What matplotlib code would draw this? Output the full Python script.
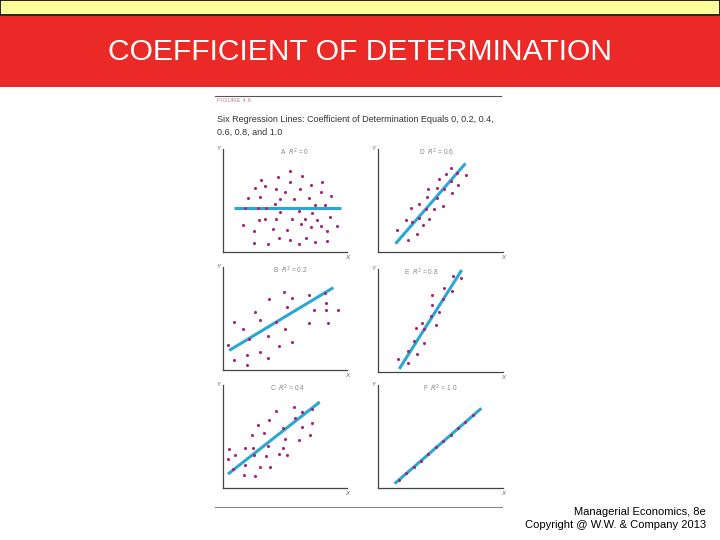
import matplotlib.pyplot as plt
from matplotlib.patches import Rectangle

plt.rcParams['font.family'] = ['Liberation Sans', 'DejaVu Sans']

# panel data (x, y in 0-10 axis units), plus regression line end points
a_x = [5.4, 4.4, 6.4, 3.1, 3.4, 5.4, 2.6, 4.3, 5.0, 6.2, 7.1, 8.0, 7.9, 3.0, 2.0, 4.6, 5.7, 6.9, 8.7,
       1.8, 2.8, 3.5, 4.2, 7.4, 8.2, 4.6, 6.1, 7.2, 2.9, 3.4, 4.3, 5.6, 6.6, 7.6, 8.6, 1.6, 2.5, 4.0,
       5.2, 6.3, 7.1, 7.9, 9.2, 8.4, 2.5, 3.6, 4.5, 5.4, 6.1, 6.7, 7.4, 8.4]
a_y = [7.9, 7.3, 7.4, 7.0, 6.4, 6.8, 6.2, 6.1, 5.8, 6.1, 6.5, 6.8, 5.8, 5.3, 5.2, 5.1, 5.1, 5.2, 5.4,
       4.3, 4.3, 4.3, 4.7, 4.6, 4.6, 3.9, 4.0, 3.8, 3.1, 3.2, 3.2, 3.2, 3.2, 3.1, 3.4, 2.6, 2.0, 2.2,
       2.1, 2.7, 2.4, 2.5, 2.5, 2.0, 0.9, 0.8, 1.4, 1.2, 0.8, 1.4, 1.0, 1.1]
a_line_x = [0.9, 9.5]
a_line_y = [4.26, 4.26]

b_x = [0.4, 0.9, 0.9, 1.6, 1.9, 1.9, 2.1, 2.6, 3.0, 3.0, 3.6, 3.6, 3.7, 4.3, 4.5, 4.9, 5.0, 5.2,
       5.6, 5.6, 6.9, 6.9, 7.3, 8.2, 8.3, 8.3, 8.5, 9.3]
b_y = [2.4, 1.0, 4.7, 4.0, 0.5, 1.5, 3.0, 5.6, 1.7, 4.9, 3.3, 1.2, 6.9, 4.7, 2.3, 7.6, 4.0, 6.1,
       7.0, 2.7, 4.6, 7.3, 5.8, 7.5, 5.8, 6.5, 4.6, 5.8]
b_line_x = [0.5, 8.9]
b_line_y = [1.9, 8.0]

c_x = [0.4, 0.5, 0.8, 1.0, 1.7, 1.8, 1.8, 2.3, 2.4, 2.5, 2.6, 2.8, 3.0, 3.3, 3.5, 3.6, 3.8, 3.7,
       4.3, 4.5, 4.8, 4.8, 5.0, 5.2, 5.7, 5.8, 6.1, 6.4, 6.4, 7.0, 7.2, 7.2]
c_y = [2.8, 3.8, 1.8, 3.2, 1.3, 2.2, 3.9, 5.1, 3.9, 3.2, 1.2, 6.1, 2.0, 5.3, 3.1, 4.1, 2.0, 6.6,
       7.5, 3.3, 3.9, 5.8, 4.8, 3.2, 7.9, 6.8, 4.7, 7.4, 5.9, 5.1, 7.7, 6.3]
c_line_x = [0.4, 7.8]
c_line_y = [1.35, 8.35]

d_x = [1.5, 2.4, 3.1, 3.6, 4.1, 3.3, 2.7, 2.2, 2.6, 3.3, 3.8, 4.5, 3.9, 4.0, 4.7, 4.7, 5.2, 5.3,
       5.9, 6.4, 5.8, 4.9, 5.4, 6.3, 5.8, 7.0]
d_y = [2.1, 1.2, 1.7, 2.6, 3.2, 3.3, 2.9, 3.1, 4.3, 4.7, 4.2, 4.2, 5.3, 6.1, 6.2, 5.2, 4.5, 6.1,
       5.7, 6.5, 6.9, 7.1, 7.6, 7.7, 8.2, 7.5]
d_line_x = [1.4, 7.0]
d_line_y = [0.8, 8.6]

e_x = [1.6, 2.4, 2.4, 3.1, 2.9, 3.7, 3.0, 3.5, 3.7, 4.6, 4.2, 4.9, 4.3, 4.3, 5.2, 5.3, 5.9, 6.0, 6.6]
e_y = [1.3, 0.9, 2.0, 1.7, 3.0, 2.8, 4.3, 4.8, 4.2, 4.6, 5.4, 5.8, 6.5, 7.5, 7.1, 8.2, 7.9, 9.3, 9.1]
e_line_x = [1.7, 6.7]
e_line_y = [0.3, 9.9]

f_x = [1.65, 2.24, 2.85, 3.44, 4.03, 4.61, 5.23, 5.81, 6.4, 6.99, 7.57]
f_y = [0.81, 1.42, 2.03, 2.65, 3.32, 3.94, 4.55, 5.16, 5.84, 6.45, 7.10]
f_line_x = [1.33, 8.27]
f_line_y = [0.42, 7.74]

labels = ['A  $R^2$ = 0', 'D  $R^2$ = 0.6', 'B  $R^2$ = 0.2', 'E  $R^2$ = 0.8', 'C  $R^2$ = 0.4', 'F  $R^2$ = 1.0']

fig = plt.figure(figsize=(7.2, 5.4), dpi=100)
W, H = 720, 540

# header bands
fig.patches.append(Rectangle((0, 1 - 15 / H), 1, 15 / H, transform=fig.transFigure,
                             facecolor='#fdfd9a', edgecolor='black', linewidth=1.2))
fig.patches.append(Rectangle((0, 1 - 87 / H), 1, 71 / H, transform=fig.transFigure,
                             facecolor='#eb2a27', edgecolor='none'))
fig.text(0.5, 1 - 52 / H, 'COEFFICIENT OF DETERMINATION', color='white', fontsize=21.6,
         ha='center', va='center')

# figure frame lines and caption
fig.add_artist(plt.Line2D([215 / W, 501 / W], [1 - 96 / H] * 2, color='#555555', lw=0.8))
fig.add_artist(plt.Line2D([215 / W, 502 / W], [1 - 507 / H] * 2, color='#888888', lw=0.8))
fig.text(217 / W, 1 - 101 / H, 'FIGURE 4.6', color='#c0809a', fontsize=4.5, va='center')
fig.text(217 / W, 1 - 120 / H, 'Six Regression Lines: Coefficient of Determination Equals 0, 0.2, 0.4,',
         color='#333333', fontsize=6.5, va='center')
fig.text(217 / W, 1 - 132 / H, '0.6, 0.8, and 1.0', color='#333333', fontsize=6.5, va='center')

# (points, line, left px, bottom px, width px, label x in axes fraction)
panels = [
    (a_x, a_y, a_line_x, a_line_y, 223, 252, 124, 0.58),
    (d_x, d_y, d_line_x, d_line_y, 378, 252, 125, 0.47),
    (b_x, b_y, b_line_x, b_line_y, 223, 370, 124, 0.54),
    (e_x, e_y, e_line_x, e_line_y, 378, 372, 125, 0.35),
    (c_x, c_y, c_line_x, c_line_y, 223, 488, 124, 0.52),
    (f_x, f_y, f_line_x, f_line_y, 378, 488, 125, 0.50),
]

for (px, py, lx, ly, left, bottom, width, labx), lab in zip(panels, labels):
    ax = fig.add_axes([left / W, 1 - bottom / H, width / W, 103 / H])
    ax.set_xlim(0, 10)
    ax.set_ylim(0, 10)
    ax.plot(lx, ly, color='#2aa8d2', lw=2.2, zorder=1, solid_capstyle='butt')
    ax.scatter(px, py, s=5, color='#a8237a', zorder=2, linewidths=0)
    for s in ['top', 'right']:
        ax.spines[s].set_visible(False)
    for s in ['left', 'bottom']:
        ax.spines[s].set_color('#444444')
        ax.spines[s].set_linewidth(0.9)
    ax.set_xticks([])
    ax.set_yticks([])
    ax.patch.set_alpha(0)
    ax.text(labx, 0.97, lab, transform=ax.transAxes, ha='center', va='center',
            fontsize=4.8, color='#888888')
    ax.text(-0.04, 1.0, 'Y', transform=ax.transAxes, ha='center', va='center',
            fontsize=4.5, color='#666666', style='italic')
    ax.text(1.0, -0.05, 'X', transform=ax.transAxes, ha='center', va='center',
            fontsize=4.5, color='#666666', style='italic')

fig.text(706 / W, 1 - 512 / H, 'Managerial Economics, 8e', ha='right', va='center',
         fontsize=8, color='black')
fig.text(706 / W, 1 - 525 / H, 'Copyright @ W.W. & Company 2013', ha='right', va='center',
         fontsize=8, color='black')

fig.savefig('out.png', dpi=100)
